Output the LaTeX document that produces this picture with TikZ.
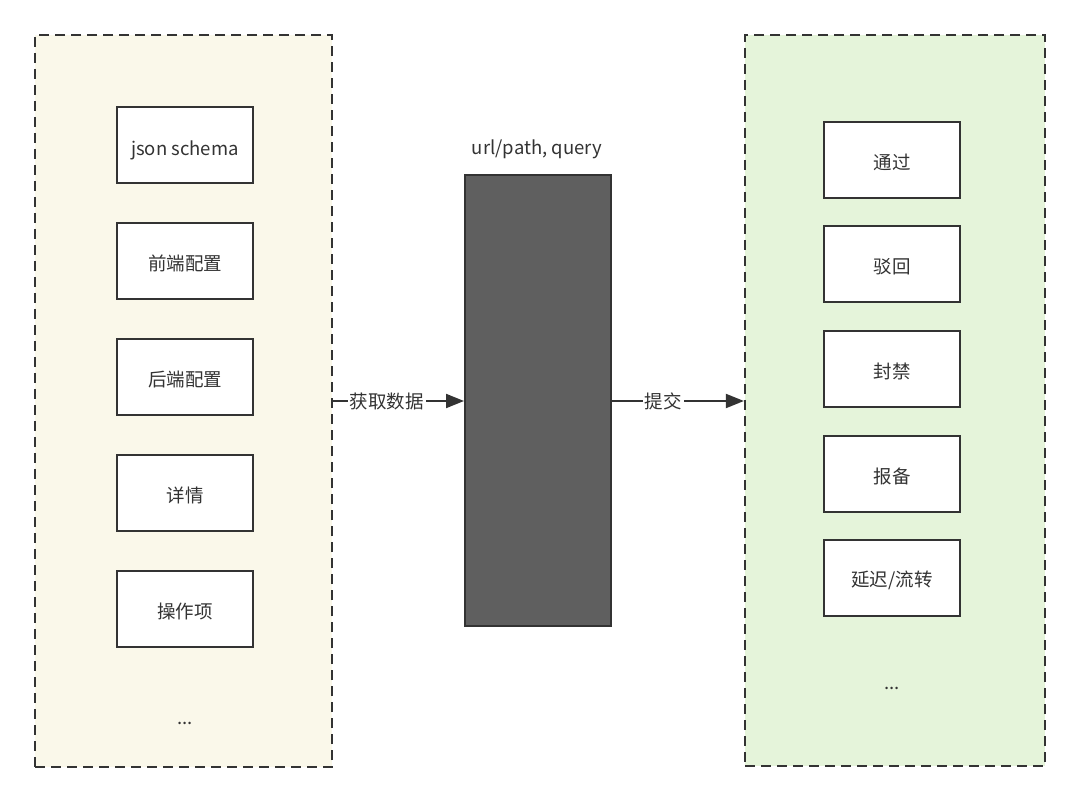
\documentclass[tikz,border=0pt]{standalone}
\usepackage{fontspec}
\setmainfont{Noto Sans CJK SC}
\usetikzlibrary{arrows.meta}
\definecolor{lineC}{HTML}{333333}
\definecolor{leftFill}{HTML}{FAF8EA}
\definecolor{rightFill}{HTML}{E5F4DA}
\definecolor{darkFill}{HTML}{5F5F5F}
\newcommand{\lowered}[2][2.5pt]{\raisebox{-#1}[\height][\depth]{#2}}
\tikzset{
  container/.style={draw=lineC, line width=2.2pt, dash pattern=on 10pt off 6pt},
  itembox/.style={draw=lineC, line width=2pt, fill=white, minimum width=136pt, minimum height=76pt, inner sep=0pt, font=\fontsize{18.5}{22}\selectfont, text=lineC},
  plain/.style={font=\fontsize{18.5}{22}\selectfont, text=lineC, inner sep=1pt},
  conn/.style={draw=lineC, line width=2pt, -{Triangle[length=18pt,width=14pt]}},
  edgelab/.style={fill=white, font=\fontsize{18.5}{22}\selectfont, text=lineC, inner sep=2pt}
}
\begin{document}
\begin{tikzpicture}[x=1pt,y=-1pt]
\useasboundingbox (0,0) rectangle (1080,802);
\fill[white] (0,0) rectangle (1080,802);
% containers
\node[container, fill=leftFill, minimum width=297pt, minimum height=732pt, inner sep=0pt] (left) at (183.5,401) {};
\node[container, fill=rightFill, minimum width=300pt, minimum height=731pt, inner sep=0pt] (right) at (895,400.5) {};
% middle
\node[draw=lineC, line width=2pt, fill=darkFill, minimum width=146pt, minimum height=451pt, inner sep=0pt] (mid) at (538,400.5) {};
\node[plain] (midlab) at (537,145) {\lowered[4pt]{url/path, query}};
% left items
\node[itembox] (l1) at (185,145) {\lowered[5pt]{json schema}};
\node[itembox] (l2) at (185,261) {\lowered{前端配置}};
\node[itembox] (l3) at (185,377) {\lowered{后端配置}};
\node[itembox] (l4) at (185,493) {\lowered{详情}};
\node[itembox] (l5) at (185,609) {\lowered{操作项}};
\node[plain] (ldots) at (185,719) {\lowered[4pt]{...}};
% right items
\node[itembox] (r1) at (892,160) {\lowered{通过}};
\node[itembox] (r2) at (892,264) {\lowered{驳回}};
\node[itembox] (r3) at (892,369) {\lowered{封禁}};
\node[itembox] (r4) at (892,474) {\lowered{报备}};
\node[itembox] (r5) at (892,578) {\lowered{延迟/流转}};
\node[plain] (rdots) at (892,684) {\lowered[4pt]{...}};
% connectors
\draw[conn] (left.east |- 0,401) -- node[edgelab, pos=0.41] {获取数据} (mid.west |- 0,401);
\draw[conn] (mid.east |- 0,401) -- node[edgelab, pos=0.39] {提交} (right.west |- 0,401);
\end{tikzpicture}
\end{document}
